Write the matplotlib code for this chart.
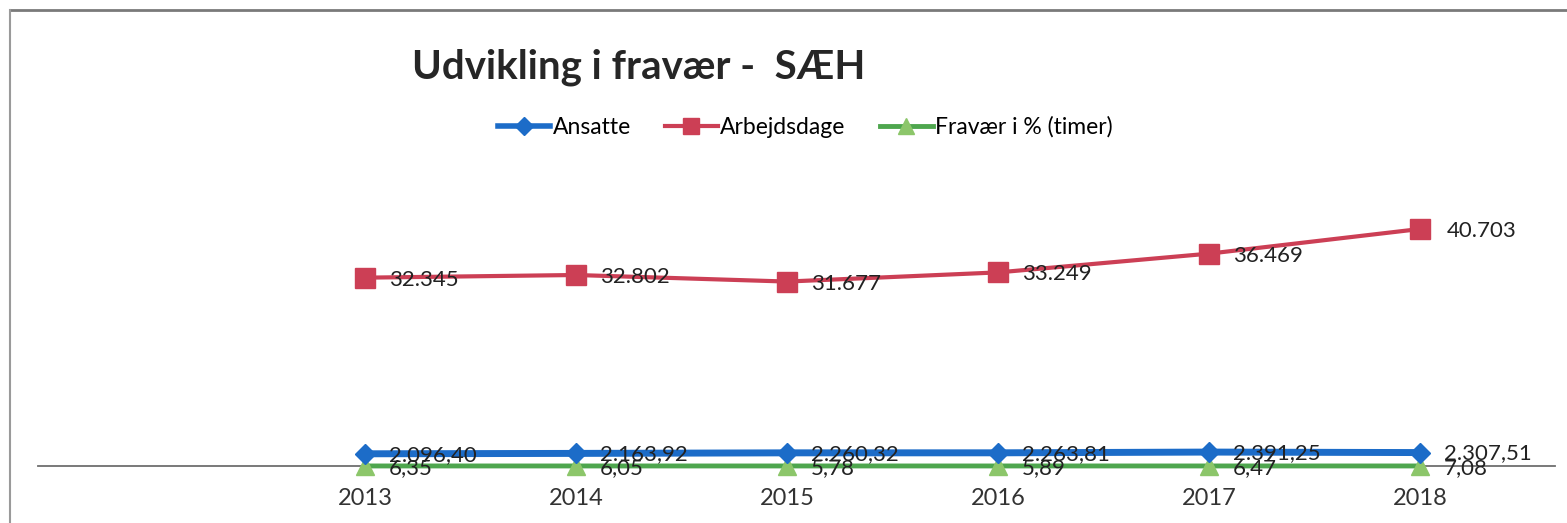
import matplotlib
matplotlib.use("Agg")
import matplotlib.pyplot as plt
from matplotlib.lines import Line2D

years = ["2013", "2014", "2015", "2016", "2017", "2018"]
ansatte = [2096.40, 2163.92, 2260.32, 2263.81, 2391.25, 2307.51]
arbejdsdage = [32345, 32802, 31677, 33249, 36469, 40703]
fravaer = [6.35, 6.05, 5.78, 5.89, 6.47, 7.08]

title = "Udvikling i fravær -  SÆH"
series_names = ["Ansatte", "Arbejdsdage", "Fravær i % (timer)"]

FONT = "Lato"
W, H = 1567, 523
fig = plt.figure(figsize=(W / 100, H / 100), dpi=100)

def fx(px):
    return px / W

def fy(py):
    return 1 - py / H

ax = fig.add_axes([fx(38), fy(466), fx(1555 - 38), fy(100) - fy(466)])
x = list(range(len(years)))
left = 0 - (365 - 38) / 211
right = 5 + (1555 - 1420) / 211
ax.set_xlim(left, right)
scale = 237 / 40703  # px per unit
ax.set_ylim(0, 366 / scale)

blue = "#1c6cc8"
red = "#cc3f55"
green_line = "#4ea64e"
green_mk = "#8cc66a"

ax.plot(x, ansatte, color=blue, lw=5, marker="D", ms=10, mfc=blue, mec=blue,
        clip_on=False, zorder=4)
ax.plot(x, arbejdsdage, color=red, lw=3, marker="s", ms=14, mfc=red, mec=red,
        clip_on=False, zorder=4)
ax.plot(x, fravaer, color=green_line, lw=3.5, marker="^", ms=13, mfc=green_mk,
        mec=green_mk, clip_on=False, zorder=3)

def dk(v, dec):
    s = f"{v:,.{dec}f}"
    return s.replace(",", "X").replace(".", ",").replace("X", ".")

lab_col = "#222222"
LS = 16
for i in x:
    off = 27 if i == 5 else 24
    ax.annotate(dk(arbejdsdage[i], 0), (i, arbejdsdage[i]), xytext=(off, -2),
                textcoords="offset pixels", ha="left", va="center",
                fontsize=LS, family=FONT, color=lab_col, zorder=6)
    ax.annotate(dk(ansatte[i], 2), (i, ansatte[i]), xytext=(24, -1),
                textcoords="offset pixels", ha="left", va="center",
                fontsize=LS, family=FONT, color=lab_col, zorder=6, annotation_clip=False)
    ax.annotate(dk(fravaer[i], 2), (i, fravaer[i]), xytext=(24, -2),
                textcoords="offset pixels", ha="left", va="center",
                fontsize=LS, family=FONT, color=lab_col, zorder=6, annotation_clip=False)

for s in ["top", "right", "left"]:
    ax.spines[s].set_visible(False)
ax.spines["bottom"].set_color("#6e6e6e")
ax.spines["bottom"].set_linewidth(1.3)
ax.set_yticks([])
ax.set_xticks(x)
ax.set_xticklabels(years, fontsize=17, family=FONT, color="#333333")
ax.tick_params(axis="x", length=0, pad=16)
ax.patch.set_visible(False)

fig.text(fx(412), fy(67), title, fontsize=29, fontweight="bold", family=FONT,
         color="#262626", ha="left", va="center")

handles = [
    Line2D([], [], color=blue, lw=4, marker="D", ms=9),
    Line2D([], [], color=red, lw=3, marker="s", ms=12),
    Line2D([], [], color=green_line, lw=3.5, marker="^", ms=11, mfc=green_mk, mec=green_mk),
]
fig.legend(handles, series_names, loc="center", bbox_to_anchor=(fx(805), fy(127)),
           ncol=3, frameon=False, prop={"family": FONT, "size": 16.5},
           handlelength=2.3, handletextpad=0.1, columnspacing=1.5)

fig.add_artist(Line2D([fx(10), fx(1567)], [fy(10), fy(10)], color="#7a7a7a", lw=2))
fig.add_artist(Line2D([fx(10), fx(10)], [fy(10), fy(523)], color="#9a9a9a", lw=1.5))

fig.savefig("out.png", dpi=100)
